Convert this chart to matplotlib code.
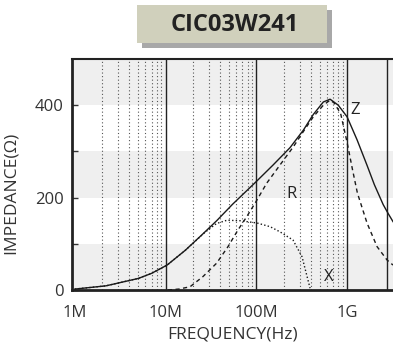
import matplotlib
matplotlib.use("Agg")
import matplotlib.pyplot as plt
from matplotlib.patches import Rectangle
import numpy as np

# impedance curves (frequency in MHz, ohms)
z_freq = [1, 2.2, 5, 7, 10.4, 16.5, 25, 36.6, 55, 99, 152, 235, 330, 425,
          548, 650, 800, 1000, 1290, 1660, 2000, 2500, 2830, 3210]
z_ohm = [2, 9, 25, 36, 54, 86, 119, 150, 186, 234, 270, 308, 346, 380,
         407, 413, 400, 375, 325, 270, 228, 185, 166, 148]

r_freq = [10.6, 14, 18.6, 25.8, 36.5, 48.8, 62.8, 78, 99, 130, 183, 256, 330,
          425, 548, 650, 720, 850, 1000, 1150, 1300, 1660, 2140, 2760, 3210]
r_ohm = [0, 2, 7, 29, 58, 94, 130, 158, 191, 231, 271, 310, 343,
         375, 400, 411, 405, 382, 320, 260, 210, 145, 94, 65, 54]

x_freq = [1, 2.2, 5, 7, 10.4, 16.5, 27.2, 36.5, 47.5, 66, 102, 142, 182, 254,
          319, 391]
x_ohm = [2, 9, 25, 36, 54, 86, 125, 144, 151, 150, 145, 137, 126, 108,
         72, 4]

decades = [1e6, 1e7, 1e8, 1e9]
decade_labels = ["1M", "10M", "100M", "1G"]

plt.rcParams['font.family'] = ['Open Sans', 'DejaVu Sans']

fig = plt.figure(figsize=(3.93, 3.45), dpi=100)
ax = fig.add_axes([72 / 393, 1 - 290 / 345, 321 / 393, 231 / 345])

# shaded bands
for lo in (0, 200, 400):
    ax.axhspan(lo, lo + 100, color="#efefef", lw=0, zorder=0)

# dotted minor grid and solid decade lines
minor = [m * d for d in decades[:3] for m in range(2, 10)]
ax.vlines(minor, 0, 500, colors="#555555", linestyles=(0, (1, 2.2)), lw=0.8, zorder=1)
ax.vlines(decades[1:] + [2.76e9], 0, 500, colors="#222222", lw=1.0, zorder=1)

f = lambda v: np.array(v) * 1e6
ax.plot(f(z_freq), z_ohm, color="#1a1a1a", lw=1.0, zorder=3)
ax.plot(f(r_freq), r_ohm, color="#1a1a1a", lw=1.0, ls=(0, (3, 2.5)), zorder=3)
ax.plot(f(x_freq), x_ohm, color="#1a1a1a", lw=1.0, ls=(0, (1, 1.6)), zorder=3)

ax.text(1.22e9, 390, "Z", fontsize=12, color="#222222", ha="center", va="center")
ax.text(2.47e8, 208, "R", fontsize=12, color="#222222", ha="center", va="center")
ax.text(6.34e8, 28, "X", fontsize=12, color="#222222", ha="center", va="center")

ax.set_xscale("log")
ax.set_xlim(0.93e6, 3.21e9)
ax.set_ylim(0, 500)
ax.set_xticks(decades)
ax.set_xticklabels(decade_labels)
ax.xaxis.set_minor_locator(plt.NullLocator())
ax.set_yticks([0, 200, 400])
ax.set_yticks([100, 300], minor=True)
ax.tick_params(axis="x", length=0, labelsize=12, labelcolor="#333333", pad=11)
ax.tick_params(axis="y", which="both", direction="in", length=4, width=1,
               labelsize=12, labelcolor="#333333", color="#333333", pad=6)

for side in ("left", "bottom"):
    ax.spines[side].set_linewidth(2)
    ax.spines[side].set_color("#222222")
ax.spines["top"].set_linewidth(1.5)
ax.spines["top"].set_color("#222222")
ax.spines["right"].set_visible(False)

ax.set_xlabel("FREQUENCY(Hz)", fontsize=12.5, color="#333333", labelpad=4)
ax.set_ylabel("IMPEDANCE(Ω)", fontsize=12.5, color="#333333")
ax.yaxis.set_label_coords(-0.165, 0.42)

# title box with shadow
fig.patches.append(Rectangle((142 / 393, 1 - 48 / 345), 190 / 393, 38 / 345,
                             transform=fig.transFigure, color="#a8a8a8", lw=0))
fig.patches.append(Rectangle((137 / 393, 1 - 43 / 345), 190 / 393, 38 / 345,
                             transform=fig.transFigure, color="#d0d0bc", lw=0))
fig.text(235 / 393, 1 - 25 / 345, "CIC03W241", fontsize=17, fontweight="bold",
         color="#222222", ha="center", va="center")

fig.savefig("out.png", dpi=100)
